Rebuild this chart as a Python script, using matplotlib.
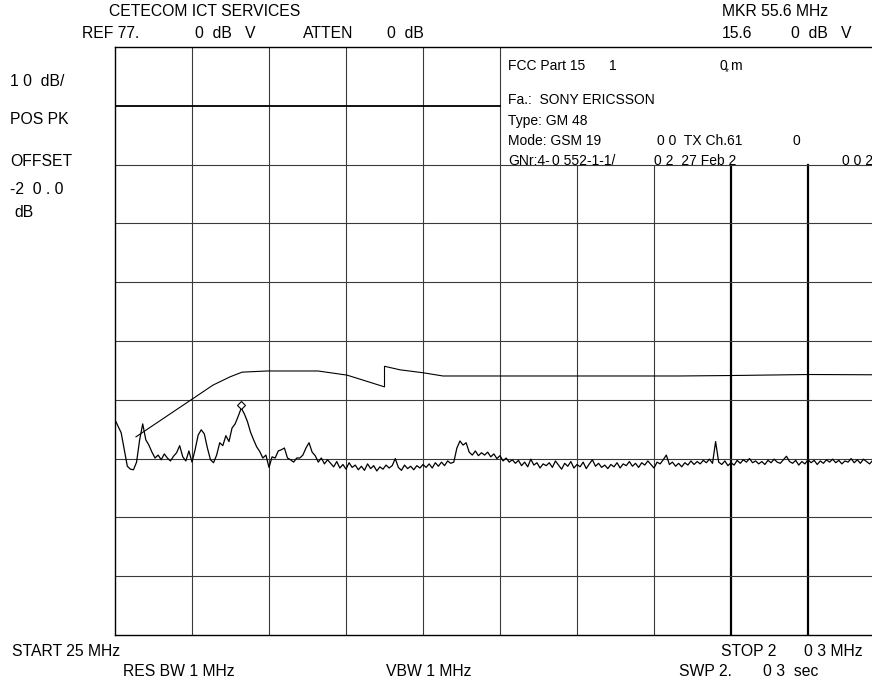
import matplotlib
matplotlib.use("Agg")
import matplotlib.pyplot as plt
import numpy as np

plt.rcParams['font.family'] = ['Liberation Sans', 'DejaVu Sans']

# sweep settings ------------------------------------------------------------------------------
f_start = 25.0      # [MHz]
f_stop  = 203.0     # [MHz]
ref_lvl = 77.0      # [dBuV] top of screen
db_div  = 10.0      # [dB/div]

# measured trace, 251 sweep points [dBuV]
levels = [
    13.6, 12.5, 11.4, 8.5, 5.7, 5.2, 5.1, 6.4, 10.2, 12.9,
    10.2, 9.3, 8.1, 7.1, 7.6, 6.8, 7.8, 7.1, 6.6, 7.4,
    8.0, 9.2, 7.3, 6.6, 8.3, 6.4, 8.5, 11.0, 11.9, 11.2,
    8.8, 6.8, 6.3, 7.6, 9.7, 9.2, 10.9, 9.9, 12.2, 12.9,
    14.2, 15.6, 14.6, 13.3, 11.5, 10.2, 9.0, 8.2, 7.1, 7.6,
    5.5, 7.3, 7.1, 8.3, 8.5, 8.8, 7.1, 6.8, 6.4, 7.1,
    7.1, 7.6, 8.8, 9.7, 8.1, 7.5, 6.4, 7.1, 6.1, 6.8,
    6.2, 5.6, 6.5, 5.4, 6.0, 5.2, 6.3, 5.5, 5.9, 5.1,
    5.7, 5.0, 6.1, 5.3, 5.8, 4.9, 5.6, 5.2, 5.9, 5.4,
    5.8, 7.0, 5.5, 5.0, 5.9, 5.3, 5.7, 5.1, 5.8, 5.4,
    6.0, 5.5, 6.1, 5.4, 6.3, 5.7, 6.4, 5.8, 6.6, 6.2,
    6.4, 8.8, 10.0, 9.3, 9.7, 8.1, 7.6, 8.3, 7.5, 8.0,
    7.6, 8.1, 7.3, 7.8, 7.0, 7.5, 6.6, 7.1, 6.4, 6.8,
    6.2, 6.7, 5.8, 6.4, 5.6, 6.9, 5.9, 6.3, 5.4, 6.1,
    5.8, 6.3, 5.5, 6.6, 5.9, 5.2, 6.2, 5.7, 6.5, 5.4,
    6.0, 5.6, 6.4, 5.3, 6.1, 6.8, 5.7, 6.2, 5.5, 5.9,
    5.3, 6.0, 5.6, 6.3, 5.4, 6.1, 5.8, 6.5, 5.7, 6.2,
    5.5, 6.3, 5.9, 6.6, 6.0, 5.4, 6.4, 6.1, 6.8, 7.6,
    6.0, 6.4, 5.7, 6.2, 5.6, 6.3, 5.9, 6.6, 6.0, 6.5,
    6.1, 6.7, 6.3, 6.9, 6.2, 9.9, 6.4, 6.0, 6.6, 5.8,
    6.3, 5.9, 6.7, 6.2, 6.8, 6.4, 7.0, 6.3, 6.6, 6.1,
    6.5, 6.0, 6.7, 6.3, 6.9, 6.4, 6.2, 6.8, 7.4, 6.5,
    6.2, 6.7, 5.9, 6.5, 6.1, 6.8, 6.3, 6.7, 6.0, 6.6,
    6.2, 6.8, 6.4, 6.9, 6.3, 6.7, 6.1, 6.6, 6.4, 7.0,
    6.3, 6.8, 6.2, 6.9, 6.5, 6.1, 6.7, 6.4, 6.8, 6.3,
    6.5,
]

# limit line (FCC Part 15 incl. antenna factor) [MHz], [dBuV]
limit_f   = [29.85, 42.80, 47.65, 51.58, 54.36, 60.14, 71.93, 78.63, 87.3, 87.3,
             90.88, 96.20, 100.82, 155.38, 167.63, 185.43, 203.0]
limit_lvl = [10.7, 17.1, 19.5, 20.9, 21.7, 21.9, 21.9, 21.2, 19.2, 22.7,
             22.1, 21.6, 21.05, 21.05, 21.13, 21.3, 21.25]

# screen annotations: (x px, y px, text)
header = [
    (109, 12, 'CETECOM ICT SERVICES'),
    (82, 34, 'REF 77.'),
    (195, 34, '0  dB   V'),
    (303, 34, 'ATTEN'),
    (387, 34, '0  dB'),
    (722, 12, 'MKR 55.6 MHz'),
    (722, 34, '15.6'),
    (791, 34, '0  dB   V'),
    (10, 81, '1 0  dB/'),
    (10, 120, 'POS PK'),
    (10, 161, 'OFFSET'),
    (10, 189, '-2  0 . 0'),
    (14, 213, 'dB'),
    (12, 652, 'START 25 MHz'),
    (123, 672, 'RES BW 1 MHz'),
    (386, 672, 'VBW 1 MHz'),
    (721, 652, 'STOP 2'),
    (804, 652, '0 3 MHz'),
    (679, 672, 'SWP 2.'),
    (763, 672, '0 3  sec'),
]
infobox = [
    (508, 66, 'FCC Part 15'),
    (609, 66, '1'),
    (719, 66, '0'),
    (730, 66, 'm'),
    (508, 100, 'Fa.:  SONY ERICSSON'),
    (508, 121, 'Type: GM 48'),
    (508, 141, 'Mode: GSM 19'),
    (657, 141, '0 0  TX Ch.61'),
    (792, 141, '0'),
    (508, 161, 'GNr:4-'),
    (552, 161, '0 552-1-1/'),
    (654, 161, '0 2  27 Feb 2'),
    (842, 161, '0 0 2'),
]

W, H = 872, 682
fig = plt.figure(figsize=(W / 100, H / 100), dpi=100)
ax = fig.add_axes([115 / W, (H - 635) / H, 770 / W, 588 / H])

freqs = np.linspace(f_start, f_stop, len(levels))
ax.set_xlim(f_start, f_stop)
ax.set_ylim(ref_lvl - 10 * db_div, ref_lvl)
ax.set_xticks([])
ax.set_yticks([])
for s in ax.spines.values():
    s.set_color('black')
    s.set_linewidth(1.0)

# graticule, the info box hides the upper right part
xg = np.linspace(f_start, f_stop, 11)
yg = np.linspace(ref_lvl - 10 * db_div, ref_lvl, 11)
for i, xv in enumerate(xg[1:-1], start=1):
    top = 1.0 if i <= 5 else 0.8
    if i in (8, 9):
        ax.axvline(xv, ymax=top, color='black', lw=1.6, zorder=1)
    else:
        ax.axvline(xv, ymax=top, color='#3a3a3a', lw=0.8, zorder=1)
for j, yv in enumerate(yg[1:-1], start=1):
    if j == 9:
        ax.axhline(yv, xmax=0.5, color='black', lw=1.3, zorder=1)
    else:
        ax.axhline(yv, color='#3a3a3a', lw=0.8, zorder=1)

ax.plot(limit_f, limit_lvl, color='black', lw=0.8, zorder=3)
ax.plot(freqs, levels, color='black', lw=0.9, zorder=4)

pk = int(np.argmax(levels))
ax.plot(freqs[pk], levels[pk] + 0.5, marker='D', ms=4, mfc='white', mec='black', mew=0.8, zorder=5)

for x, y, s in header:
    fig.text(x / W, 1 - y / H, s, fontsize=11.3, va='center', ha='left', color='black')
for x, y, s in infobox:
    fig.text(x / W, 1 - y / H, s, fontsize=10, va='center', ha='left', color='black')
fig.text(725 / W, 1 - 72 / H, '*', fontsize=7, va='center', ha='left', color='black')

fig.savefig('out.png', dpi=100)
